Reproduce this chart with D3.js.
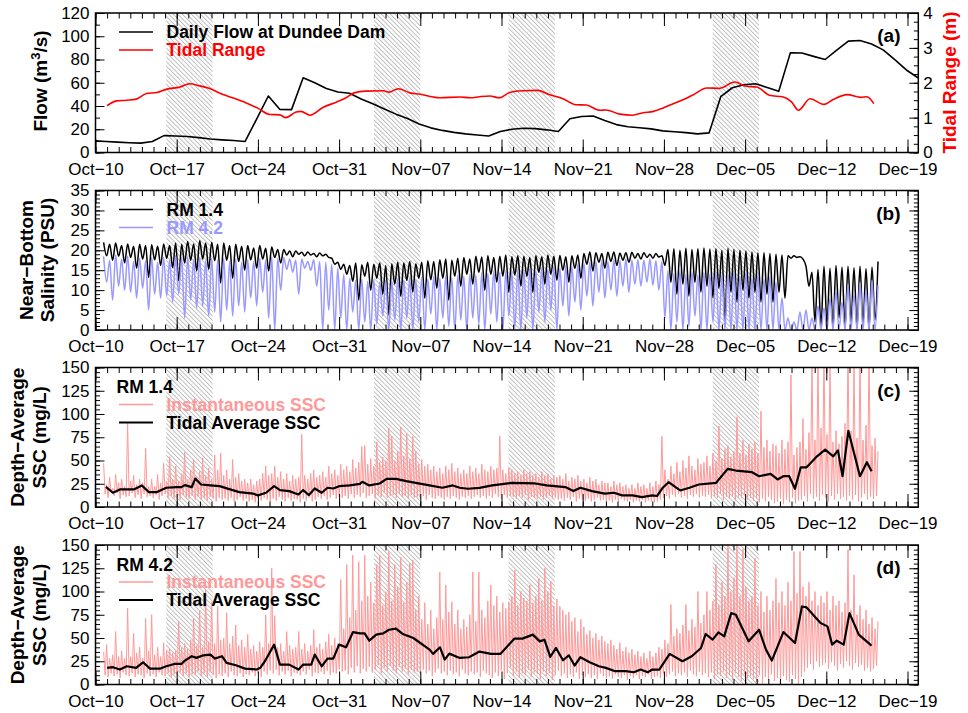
<!DOCTYPE html>
<html>
<head>
<meta charset="utf-8">
<title>Flow, salinity and SSC</title>
<script src="https://cdn.jsdelivr.net/npm/d3@7"></script>
<style>
  body { margin: 0; background: #fff; }
  text { font-family: "Liberation Sans", Arial, Helvetica, sans-serif; }
</style>
</head>
<body>
<script>
// ---- data (days counted from Oct-10, 00:00) ----
const xTickDays = [0, 7, 14, 21, 28, 35, 42, 49, 56, 63, 70];
const springStart = [6.1, 24.0, 35.6, 53.2];   // hatched periods
const springEnd   = [10.1, 28.0, 39.6, 57.2];

// (a) daily flow at Dundee Dam, first value at day -0.1, one per day
const flowStart = -0.1;
const flowVal = [10,9.4,8.9,8.4,8.1,9.4,14.5,14.2,13.8,12.8,11.6,10.9,10.3,9.5,29,48.6,37,36.9,64.3,60,
  55,52,51,46,42,37.5,33,29.2,24.5,21.2,19,17.3,16,15,14.2,18,20,20.9,20.5,19.5,
  18,29.1,31,31.4,27.5,24,22.2,21.3,20.3,18.6,17.8,17.1,16,16.9,48,55.7,58.3,59.1,56,52.6,
  85.7,85.6,82.7,80,88,95.8,96.3,93.4,88.3,79.8,71,64.3];

// (a) tidal range
const tideDay = [1.0,1.8,2.7,3.5,4.4,5.3,6.1,7.3,8.1,9.0,9.8,11.0,11.8,13.0,14.1,15.0,15.9,16.4,17.3,17.7,
  18.5,19.6,20.8,21.6,22.3,23.3,24.8,25.3,26.1,27.1,28.0,29.1,29.7,31.4,32.3,33.1,34.0,34.8,35.7,36.8,
  38.1,39.1,40.3,41.4,42.3,43.5,44.0,45.2,46.3,47.2,48.1,48.9,49.8,50.7,51.5,52.7,53.8,55.1,56.1,57.0,
  58.1,59.3,60.0,60.6,61.6,62.8,63.6,64.8,66.0,66.5,67.1];
const tideVal = [1.34,1.48,1.5,1.53,1.69,1.72,1.81,1.88,1.97,1.91,1.84,1.66,1.57,1.42,1.25,1.09,1.08,1.0,1.16,1.18,
  1.07,1.29,1.45,1.57,1.71,1.76,1.77,1.73,1.83,1.71,1.67,1.59,1.57,1.59,1.57,1.6,1.62,1.57,1.72,1.77,
  1.78,1.66,1.54,1.37,1.36,1.21,1.22,1.1,1.07,1.14,1.18,1.27,1.4,1.52,1.65,1.85,1.84,2.02,1.9,1.88,
  1.64,1.59,1.45,1.21,1.54,1.38,1.52,1.66,1.58,1.6,1.4];

// (b) near-bottom salinity: one high and one low per tide (12.42 h), from day 0.7
const tideStart = 0.7, tidePeriod = 0.5175;
const sal14High = [22,21.5,21.8,21.2,21.6,21,21.5,21.2,21.4,21,
  21.6,21.2,21.8,21.5,22.2,21.6,22.4,21.8,22,21.5,
  21.8,21.2,21.5,21,21.2,20.6,21.2,20.5,20.8,20.2,
  20.2,19.8,19.8,19.5,19.6,19.2,19.3,19,18,17,
  16.5,16.2,16.8,16.4,17,16.5,16.8,16.2,16.6,17,
  16.8,17.2,16.6,17,17.4,17.2,17.6,17.8,17.5,18,
  18.2,17.8,18.5,18.3,18.6,18.2,18.5,18.8,18.4,18.6,
  18.5,18.2,18.6,18.4,18.8,18.5,18.7,18.4,18.6,18.8,
  19.2,19.6,19.4,19.2,19.5,19.6,19.3,19.4,19.5,19.2,
  19.4,19,19.2,18.6,20.2,20.4,20,20.5,20.2,20.4,
  20.6,20.3,20.4,20,20.5,20.2,20,19.8,19.6,19.4,
  19.4,19.2,19,18.8,18.6,18.6,18.4,16,14.5,15.2,
  16,15.5,16.2,15.8,16,15.6,16,15.4,15.8,17.2];
const sal14Low = [18.6,17.5,18.5,16.8,18.2,15.5,17.8,13.2,17.6,16.2,
  18,15.6,12.4,16.8,17.5,14.8,17.8,15.2,17.4,11.8,
  17.5,13,17.2,15,17.6,15.5,17.8,14.8,18.2,16.8,
  18.8,18.4,19,18.6,18.8,18.4,18.6,18.2,16.5,15.2,
  14,12.2,7.5,13.5,10,13,9,3.8,11.5,8.5,
  12.5,9.5,13,8,12.6,10.5,13,7.5,13.5,11,
  14,11.5,14.5,10,14,12,13.5,9.5,13.8,11,
  13.5,9.5,14.5,11.5,14,12.5,15,12,15.5,13,
  16.5,14.8,17,15.5,17.2,16.2,17.5,17,18,17.8,
  18.2,18,18.3,16.2,12,9,11.5,8.5,12,9.5,
  11,8,10.5,2,9.5,7,10,8,9.5,7,
  9,7,9.5,8,18,18.2,17.8,11,2,0.8,
  1.5,0.5,3,0.5,2,0.5,1.5,0.3,2.5];
const sal42High = [18.5,17.5,18.8,17.8,18.5,17.2,18,17.4,18.2,17,
  18.2,17.5,18.6,18,18.4,17.6,18.2,17.4,18,17.5,
  18,17.2,17.8,17,17.6,17.2,18,17.5,18.4,18,
  18.2,17.8,17.5,17.8,17.2,17.6,17.2,17,16.5,15.5,
  14,13,12.5,12.8,12.2,12.6,12,12.4,12.2,12.8,
  12.5,13,12.6,13.2,12.8,13.4,13,13.6,13.2,13.8,
  13.5,14,13.8,14.4,14.2,14.8,14.5,15,14.6,15.2,
  15,15.5,14.8,15.6,15.2,16,15.5,16.2,16,16.5,
  16.8,17,17.2,17.5,17.2,17.6,17.4,17.8,17.5,17.6,
  17.5,17.8,17.4,17.2,15,14.2,15,14,14.6,13.8,
  14.5,14,14.6,13.8,14.2,14.8,13.5,14.5,13.2,14,
  12.8,13.5,12,8,3,2,4.5,5,3,6,
  5.5,8,10,7,11.5,9,12,10,12.5,11.2];
const sal42Low = [12,7.5,11,10,9.5,8,10.5,5,9,8,
  8.5,7,9,3,7.5,5.5,6,3.5,4.5,2,
  5,3.5,6,4.5,8,6,9.5,3,0,10,
  15.2,14.5,9,15.5,15,11,0,5,0,3,
  0,4.5,0,2,0,1.5,3.5,0,2.5,0,
  3,0,2,0,4,0,3,1,0,2.5,
  0,3,1.5,0,4,2,0,3.5,0.5,0,
  3,0,4.5,2,5,0,6,3.5,7,5,
  8.5,6,9.5,8,10,8.5,11,9.5,11.5,11,
  12,11.2,10,3,0,2,0,1,3.5,0,
  0,2,0,0,0,0,0,0,0,0,
  0,0,0,0,0,0,0,0,0,0,
  0,0,0,0,0,0,0,0,0];

// (c),(d) instantaneous SSC: one spike and one low per quarter-day, from day 0.7
const sscStart = 0.7, sscPeriod = 0.25875;
const ssc14High = [47,24,32,20,35,26,30,22, 90,28,34,24,30,26,63,22, 30,22,35,26,47,28,54,30,
  44,28,36,59,30,40,51,32, 38,53,34,42,30,56,40,58, 34,40,30,51,32,36,28,30,
  26,30,24,28,30,36,44,34, 36,44,32,38,30,36,28,34, 30,32,78,34,30,36,40,32,
  34,38,32,44,36,40,34,46, 40,44,38,51,42,48,65,66, 46,52,44,70,48,54,50,85,
  76,50,60,86,55,79,52,76, 60,46,51,44,46,40,44,38, 42,36,44,40,47,38,42,36,
  40,36,44,38,42,36,46,40, 38,44,40,42,76,40,36,42, 40,36,38,34,40,36,38,34,
  36,32,38,34,36,30,34,32, 34,30,36,28,32,30,34,28, 30,26,32,28,30,24,28,26,
  26,22,28,24,26,22,24,20, 24,20,26,22,24,20,26,22, 28,24,76,40,30,44,36,48,
  38,50,42,55,44,40,52,46, 48,55,44,58,50,87,52,62, 66,54,60,97,58,72,56,68,
  62,70,58,103,64,72,60,68, 66,58,72,62,70,142,56,64, 70,95,62,80,160,72,165,85,
  170,78,160,70,82,68,76,90, 175,82,160,74,165,72,88,170, 66,74,60];
const ssc14Low = [14,10,16,12,15,9,13,11, 12,15,10,13,9,14,11,12, 10,13,8,12,14,10,12,9,
  11,8,13,10,9,12,8,11, 8,10,7,11,9,6,10,8, 9,7,10,6,8,11,7,9,
  6,8,5,9,7,10,8,6, 9,7,11,8,6,10,7,9, 8,5,9,7,10,6,8,11,
  9,12,8,10,13,9,11,10, 12,9,14,10,13,11,15,10, 12,14,9,13,11,15,10,12,
  13,10,14,11,12,9,13,10, 11,9,12,8,13,10,9,12, 10,8,11,9,12,10,8,11,
  10,12,9,11,13,10,12,9, 12,10,14,11,9,13,10,12, 11,9,12,10,13,8,11,10,
  9,11,8,10,12,9,10,8, 9,7,10,8,11,6,9,8, 7,9,6,8,10,7,8,6,
  7,5,8,6,9,7,6,8, 5,7,6,8,5,7,6,5, 6,8,10,12,9,13,11,14,
  10,12,9,13,11,14,10,12, 11,13,9,12,10,14,8,11, 9,12,7,11,10,13,8,10,
  7,10,5,9,6,11,8,4, 6,9,3,8,5,10,4,7, 8,12,6,14,9,11,7,13,
  10,6,12,8,14,9,11,7, 12,8,13,6,10,14,8,11, 9,12,10];
const ssc42High = [35,43,28,32,57,30,36,28, 82,30,55,34,40,28,71,36, 75,32,40,30,45,36,38,34,
  36,68,40,44,38,48,71,42, 80,40,102,46,89,44,84,48, 50,77,44,52,64,42,48,40,
  54,38,42,36,46,40,75,44, 125,74,40,44,36,57,42,38, 40,57,38,44,36,42,59,40,
  44,38,46,54,42,50,44,113, 60,129,72,139,80,132,90,139, 95,110,88,129,139,85,100,143,
  90,129,105,137,88,110,130,134, 80,95,70,88,65,80,60,72, 121,70,107,78,89,65,80,60,
  70,62,75,121,68,121,80,72, 90,107,85,95,78,88,82,89, 95,123,85,100,93,90,107,88,
  95,114,90,125,100,111,85,92, 84,80,75,78,68,72,57,70, 62,54,58,50,55,48,52,46,
  44,48,42,38,45,36,40,34, 38,32,36,30,34,28,36,30, 34,40,38,48,44,86,52,60,
  55,64,86,58,70,62,100,66, 75,100,80,90,129,85,110,95, 150,100,115,150,95,146,105,90,
  95,136,85,100,78,95,80,90, 114,88,100,85,110,90,143,98, 143,105,95,110,90,100,85,95,
  88,100,80,95,85,90,78,88, 145,80,118,75,85,70,80,65, 72,60,68];
const ssc42Low = [10,8,12,9,11,7,13,10, 9,12,8,11,10,7,12,9, 11,8,13,10,9,12,8,11,
  10,13,9,12,8,11,10,14, 9,12,8,13,10,7,11,9, 12,8,14,10,9,12,8,11,
  10,13,9,12,8,14,11,15, 12,16,10,14,11,15,9,13, 12,10,14,11,16,9,13,12,
  14,11,15,10,13,12,16,14, 15,11,18,13,20,12,17,14, 19,13,16,21,12,18,14,20,
  15,12,19,14,17,11,16,13, 14,11,16,12,15,9,13,17, 12,14,10,15,11,13,9,16,
  12,10,14,11,13,8,15,12, 10,7,13,9,15,6,12,18, 9,14,7,12,10,16,8,13,
  11,6,14,9,12,5,10,15, 9,12,7,11,8,13,6,10, 8,11,7,10,6,12,9,7,
  9,6,11,8,7,10,5,9, 7,10,6,9,8,11,6,8, 9,7,12,8,11,14,9,12,
  10,13,8,15,11,9,14,10, 12,8,13,6,11,9,14,7, 10,5,12,8,4,11,7,9,
  6,3,10,1,8,5,11,4, 7,2,9,5,3,10,6,0, 8,14,18,22,16,25,19,21,
  23,17,24,20,15,22,18,25, 20,16,23,19,21,15,18,14, 17,20,15];

// (c),(d) tidal average SSC
const avg14Day = [0.9,1.5,2.1,3.3,4.0,4.6,5.3,6.1,7.0,7.4,7.7,8.3,8.6,9.1,9.9,10.7,11.6,12.4,13.6,14.0,
  14.7,15.4,15.9,16.7,17.5,17.9,18.4,18.9,19.5,20.0,20.5,21.0,21.9,22.8,23.0,23.6,24.5,25.1,25.9,26.8,
  27.6,28.8,29.9,30.8,31.4,32.1,33.1,34.2,35.9,37.9,38.9,40.5,41.2,41.8,42.8,43.9,44.7,45.4,46.3,47.1,
  48.0,48.4,48.9,49.4,50.4,51.2,52.0,53.5,54.5,55.2,56.6,57.2,58.2,58.8,59.3,59.8,60.3,60.8,61.3,62.2,
  62.9,63.6,64.0,64.4,64.9,65.9,66.5,66.9];
const avg14Val = [21.7,15.3,18.9,18.9,23.2,16,16,20.7,21.4,21.4,23.5,21.4,30.6,24.2,23.2,22.4,18.9,16,14.3,12.5,
  15.3,22.4,18.2,17.1,13.5,18.2,12.8,19.9,15.3,20.7,19.9,22.4,23.2,24.9,27.1,23.2,25.3,30.3,30.3,27.8,
  26,23.2,20.7,23.2,20.7,19.6,20.5,23.2,26,25.3,23.2,21.4,17.1,20.7,17.1,14.3,15.3,12.5,12.5,10.7,
  12.5,11.8,20.7,26.7,17.8,20.7,24.2,26,41,39.2,37.4,33.1,35.6,29.6,33.1,33.1,19.6,42.7,42.7,54.5,
  61.6,54.5,60.9,33.1,81.9,33.1,48.1,38.5];
const avg42Day = [1.0,1.5,2.1,2.7,3.5,4.1,4.7,5.6,6.1,6.8,7.4,7.7,8.3,8.7,9.3,9.9,10.3,10.9,11.3,12.1,
  12.9,13.9,14.2,14.6,15.4,15.9,16.7,17.5,17.9,18.6,18.9,19.5,20.0,20.5,21.0,21.6,22.2,22.8,23.2,23.6,
  24.2,24.8,25.3,25.9,26.5,27.4,28.2,28.8,29.1,29.7,30.1,30.5,31.4,32.2,33.1,34.1,34.9,36.1,36.8,37.7,
  38.3,38.7,39.2,39.7,40.3,40.8,41.3,41.8,42.6,43.4,44.0,44.8,45.7,46.4,47.0,47.6,48.0,48.6,49.5,50.6,
  51.4,52.2,52.6,53.2,53.7,54.2,54.8,55.2,56.3,57.2,57.8,58.3,59.3,60.3,60.9,61.3,62.5,63.1,63.5,63.9,
  64.5,65.0,65.8,66.4,66.9];
const avg42Val = [17.9,18.6,16.1,19.6,17.9,23.9,17.1,17.1,19.6,22.1,22.1,25.7,30.4,28.6,31.4,32.1,27.9,30.4,23.2,20.7,
  17.1,16.1,17.9,25,42.9,21.4,21.4,16.1,21.4,21.4,32.1,19.6,27.9,27.9,42.9,40,56.4,55,55,47.1,
  53.6,55,58.9,60,54.3,50,42.9,37.5,32.9,40,26.8,33.2,28.6,29.3,35.4,32.9,32.9,49.3,49.3,53.6,
  46.4,48.2,29.6,39.3,26.1,31.4,20.4,29.3,23.9,19.6,17.9,14.3,14.3,13.2,16.1,13.2,16.1,16.1,32.9,25,
  30.4,39.3,54.3,48.2,56.1,51.8,76.8,75,46.4,58.9,37.5,25.7,56.4,44.6,83.9,82.9,66.1,62.5,42.9,47.1,
  42.9,76.8,53.6,47.1,41.8];

// y tick labels
const flowTicks = [0, 20, 40, 60, 80, 100, 120];
const rangeTicks = [0, 1, 2, 3, 4];
const salTicks = [0, 5, 10, 15, 20, 25, 30, 35];
const sscTicks = [0, 25, 50, 75, 100, 125, 150];

// ---- layout ----
const W = 968, H = 713;
const left = 95.5, right = 918.3;
const panelTop = [13, 190.5, 367.5, 545];
const panelH = 139.5;
const FONT = '"Liberation Sans", Arial, Helvetica, sans-serif';
const BLUE = "#9999ff", PINK = "#ff9999", RED = "#ff0000";

const t0 = Date.UTC(2009, 9, 10);
const toDate = d => new Date(t0 + d * 864e5);
const x = d3.scaleUtc().domain([toDate(0), toDate(70.93)]).range([left, right]);
const fmtMon = d3.utcFormat("%b"), fmtDay = d3.utcFormat("%d");

const svg = d3.select("body").append("svg").attr("width", W).attr("height", H);
const defs = svg.append("defs");
const pat = defs.append("pattern").attr("id", "hatch")
  .attr("patternUnits", "userSpaceOnUse").attr("width", 3.2).attr("height", 3.2)
  .attr("patternTransform", "rotate(-45)");
pat.append("line").attr("x1", 0.5).attr("y1", 0).attr("x2", 0.5).attr("y2", 3.2)
  .attr("stroke", "#b0b0b0").attr("stroke-width", 0.8);

function zigzag(high, low, start, period) {
  const pts = [];
  high.forEach((v, k) => {
    pts.push([start + k * period, v]);
    if (k < high.length - 1 && k < low.length) pts.push([start + (k + 0.5) * period, low[k]]);
  });
  return pts;
}

function panel(i, domain) {
  const top = panelTop[i];
  const y = d3.scaleLinear().domain(domain).range([top + panelH, top]);
  defs.append("clipPath").attr("id", "clip" + i).append("rect")
    .attr("x", left).attr("y", top).attr("width", right - left).attr("height", panelH);
  svg.append("g").selectAll("rect").data(d3.zip(springStart, springEnd)).join("rect")
    .attr("x", d => x(toDate(d[0]))).attr("width", d => x(toDate(d[1])) - x(toDate(d[0])))
    .attr("y", top).attr("height", panelH).attr("fill", "url(#hatch)");
  const g = svg.append("g").attr("clip-path", `url(#clip${i})`);
  return { y, g, top };
}

function drawLine(p, pts, y, color, width, curve) {
  p.g.append("path").datum(pts)
    .attr("fill", "none").attr("stroke", color).attr("stroke-width", width)
    .attr("stroke-linejoin", "round")
    .attr("d", d3.line().curve(curve || d3.curveLinear)
      .x(d => x(toDate(d[0]))).y(d => y(d[1])));
}

function styleAxis(g) {
  g.select(".domain").remove();
  g.selectAll(".tick line").attr("stroke", "#000").attr("stroke-width", 1);
  g.selectAll("text").attr("font-size", 17).attr("font-family", FONT).attr("fill", "#000");
}

function frameAndAxes(p, yTicks, yMinor, yRight) {
  const top = p.top, bot = top + panelH;
  const minorDays = d3.range(0, 71);
  svg.append("g").attr("transform", `translate(0,${bot})`)
    .call(d3.axisBottom(x).tickValues(minorDays.map(toDate)).tickSize(-5.5).tickFormat(""))
    .call(styleAxis);
  svg.append("g").attr("transform", `translate(0,${bot})`)
    .call(d3.axisBottom(x).tickValues(xTickDays.map(toDate)).tickSize(-13).tickPadding(10)
      .tickFormat(d => fmtMon(d) + "\u2212" + fmtDay(d)))
    .call(styleAxis);
  svg.append("g").attr("transform", `translate(0,${top})`)
    .call(d3.axisTop(x).tickValues(minorDays.map(toDate)).tickSize(-5.5).tickFormat(""))
    .call(styleAxis);
  svg.append("g").attr("transform", `translate(0,${top})`)
    .call(d3.axisTop(x).tickValues(xTickDays.map(toDate)).tickSize(-13).tickFormat(""))
    .call(styleAxis);
  svg.append("g").attr("transform", `translate(${left},0)`)
    .call(d3.axisLeft(p.y).tickValues(yMinor).tickSize(-4.5).tickFormat(""))
    .call(styleAxis);
  svg.append("g").attr("transform", `translate(${left},0)`)
    .call(d3.axisLeft(p.y).tickValues(yTicks).tickSize(-9).tickPadding(6).tickFormat(d3.format("d")))
    .call(styleAxis);
  if (!yRight) {
    svg.append("g").attr("transform", `translate(${right},0)`)
      .call(d3.axisRight(p.y).tickValues(yMinor).tickSize(-4.5).tickFormat(""))
      .call(styleAxis);
    svg.append("g").attr("transform", `translate(${right},0)`)
      .call(d3.axisRight(p.y).tickValues(yTicks).tickSize(-9).tickFormat(""))
      .call(styleAxis);
  }
  svg.append("rect").attr("x", left).attr("y", top).attr("width", right - left).attr("height", panelH)
    .attr("fill", "none").attr("stroke", "#000").attr("stroke-width", 1.5);
}

function label(p, txt) {
  svg.append("text").attr("x", 900.5).attr("y", p.top + 29).attr("text-anchor", "end")
    .attr("font-size", 19).attr("font-weight", "bold").text(txt);
}

function legend(p, row, color, txt, lineW) {
  const yy = p.top + 19 + row * 18;
  svg.append("line").attr("x1", 119).attr("x2", 153).attr("y1", yy).attr("y2", yy)
    .attr("stroke", color).attr("stroke-width", lineW);
  svg.append("text").attr("x", 166.5).attr("y", yy + 6.2).attr("font-size", 17.5)
    .attr("font-weight", "bold").attr("fill", color).text(txt);
}

function yTitle(lines, xs, cy, color) {
  lines.forEach((t, k) => {
    const tx = svg.append("text").attr("transform", `translate(${xs[k]},${cy}) rotate(-90)`)
      .attr("text-anchor", "middle").attr("font-size", 19).attr("font-weight", "bold")
      .attr("fill", color || "#000");
    if (Array.isArray(t)) {
      tx.append("tspan").text(t[0]);
      tx.append("tspan").attr("baseline-shift", "super").attr("font-size", 13).text(t[1]);
      tx.append("tspan").text(t[2]);
    } else tx.text(t);
  });
}

// ---- (a) ----
const pa = panel(0, [0, 120]);
const yR = d3.scaleLinear().domain([0, 4]).range([pa.top + panelH, pa.top]);
drawLine(pa, flowVal.map((v, k) => [flowStart + k, v]), pa.y, "#000", 1.6);
drawLine(pa, tideDay.map((d, k) => [d, tideVal[k]]), yR, RED, 1.6, d3.curveMonotoneX);
frameAndAxes(pa, flowTicks, d3.range(0, 121, 10), true);
svg.append("g").attr("transform", `translate(${right},0)`)
  .call(d3.axisRight(yR).tickValues(d3.range(0, 4.01, 0.25)).tickSize(-4.5).tickFormat(""))
  .call(styleAxis);
svg.append("g").attr("transform", `translate(${right},0)`)
  .call(d3.axisRight(yR).tickValues(rangeTicks).tickSize(-9).tickPadding(5).tickFormat(d3.format("d")))
  .call(styleAxis);
legend(pa, 0, "#000", "Daily Flow at Dundee Dam", 1.6);
legend(pa, 1, RED, "Tidal Range", 1.6);
label(pa, "(a)");
yTitle([["Flow (m", "3", "/s)"]], [46.5], 81);
yTitle(["Tidal Range (m)"], [956], 82.5, RED);

// ---- (b) ----
const pb = panel(1, [0, 35]);
drawLine(pb, zigzag(sal14High, sal14Low, tideStart, tidePeriod), pb.y, "#000", 1.5, d3.curveMonotoneX);
drawLine(pb, zigzag(sal42High, sal42Low, tideStart, tidePeriod), pb.y, BLUE, 1.5, d3.curveMonotoneX);
frameAndAxes(pb, salTicks, d3.range(0, 36, 1));
legend(pb, 0, "#000", "RM 1.4", 1.6);
legend(pb, 1, BLUE, "RM 4.2", 1.6);
label(pb, "(b)");
yTitle(["Near\u2212Bottom", "Salinity (PSU)"], [33, 54], 260);

// ---- (c), (d) ----
function sscPanel(i, high, low, avgDay, avgVal, site, tag) {
  const p = panel(i, [0, 150]);
  drawLine(p, zigzag(high, low, sscStart, sscPeriod), p.y, PINK, 1);
  drawLine(p, avgDay.map((d, k) => [d, avgVal[k]]), p.y, "#000", 2.2);
  frameAndAxes(p, sscTicks, d3.range(0, 151, 5));
  svg.append("text").attr("x", 116.5).attr("y", p.top + 25.5).attr("font-size", 17.5)
    .attr("font-weight", "bold").text(site);
  legend(p, 1, PINK, "Instantaneous SSC", 1.4);
  legend(p, 2, "#000", "Tidal Average SSC", 2.2);
  label(p, tag);
  yTitle(["Depth\u2212Average", "SSC (mg/L)"], [23.5, 45.5], p.top + panelH / 2);
}
sscPanel(2, ssc14High, ssc14Low, avg14Day, avg14Val, "RM 1.4", "(c)");
sscPanel(3, ssc42High, ssc42Low, avg42Day, avg42Val, "RM 4.2", "(d)");
</script>
</body>
</html>
